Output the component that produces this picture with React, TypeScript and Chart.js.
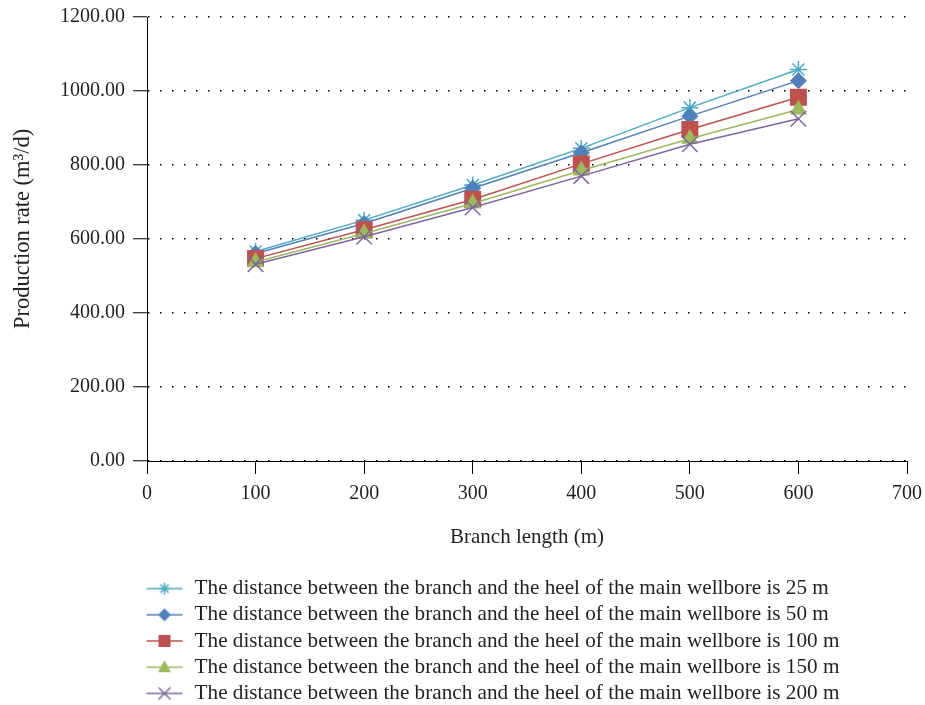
import React, { useEffect, useRef } from "react";
import { Chart, registerables } from "chart.js";

Chart.register(...registerables);

// ---- data ----
const branchLength = [100, 200, 300, 400, 500, 600];
const rate25 = [566, 651, 746, 845, 955, 1058];
const rate50 = [561, 642, 737, 833, 932, 1028];
const rate100 = [547, 625, 707, 803, 896, 983];
const rate150 = [538, 615, 696, 785, 871, 950];
const rate200 = [532, 606, 685, 770, 856, 925];
const seriesLabels = [
  "The distance between the branch and the heel of the main wellbore is 25 m",
  "The distance between the branch and the heel of the main wellbore is 50 m",
  "The distance between the branch and the heel of the main wellbore is 100 m",
  "The distance between the branch and the heel of the main wellbore is 150 m",
  "The distance between the branch and the heel of the main wellbore is 200 m",
];
const xAxisTitle = "Branch length (m)";
const yAxisTitle = "\u2002\u2009\u2009Production rate (m\u00B3/d)";
const xMin = 0, xMax = 700, xStep = 100;
const yMin = 0, yMax = 1200, yStep = 200;

// ---- styles ----
const FONT = "'Liberation Serif', 'Times New Roman', serif";
const TEXT = "#231f20";
const seriesStyles = [
  { color: "#4bacc6", style: "star", radius: 8.5, fill: false },
  { color: "#4f81bd", style: "rectRot", radius: 8.5, fill: true },
  { color: "#c0504d", style: "rect", radius: 12, fill: true },
  { color: "#9bbb59", style: "triangle", radius: 10, fill: true },
  { color: "#8064a2", style: "crossRot", radius: 11, fill: false },
];

function legendSymbol(color: string, kind: string): HTMLCanvasElement {
  const c = document.createElement("canvas");
  c.width = 38;
  c.height = 20;
  const ctx = c.getContext("2d")!;
  const cx = 19, cy = 10;
  ctx.strokeStyle = color;
  ctx.fillStyle = color;
  ctx.lineWidth = 1.5;
  ctx.beginPath();
  ctx.moveTo(1, cy);
  ctx.lineTo(37, cy);
  ctx.stroke();
  ctx.beginPath();
  if (kind === "star") {
    const r = 6, d = r * Math.SQRT1_2;
    ctx.moveTo(cx, cy - r); ctx.lineTo(cx, cy + r);
    ctx.moveTo(cx - r, cy); ctx.lineTo(cx + r, cy);
    ctx.moveTo(cx - d, cy - d); ctx.lineTo(cx + d, cy + d);
    ctx.moveTo(cx - d, cy + d); ctx.lineTo(cx + d, cy - d);
    ctx.stroke();
  } else if (kind === "rectRot") {
    const r = 6.5;
    ctx.moveTo(cx, cy - r); ctx.lineTo(cx + r, cy); ctx.lineTo(cx, cy + r); ctx.lineTo(cx - r, cy);
    ctx.closePath(); ctx.fill();
  } else if (kind === "rect") {
    ctx.rect(cx - 6, cy - 6, 12, 12); ctx.fill();
  } else if (kind === "triangle") {
    ctx.moveTo(cx, cy - 7); ctx.lineTo(cx + 6.5, cy + 5); ctx.lineTo(cx - 6.5, cy + 5);
    ctx.closePath(); ctx.fill();
  } else if (kind === "crossRot") {
    const d = 6;
    ctx.moveTo(cx - d, cy - d); ctx.lineTo(cx + d, cy + d);
    ctx.moveTo(cx - d, cy + d); ctx.lineTo(cx + d, cy - d);
    ctx.stroke();
  }
  return c;
}

const legendShift = {
  id: "legendShift",
  beforeDraw(chart: any) {
    const lg = chart.legend;
    if (!lg) return;
    const w = lg.width, h = lg.height;
    lg.left = 132;
    lg.right = 132 + w;
    lg.top = chart.height - 132;
    lg.bottom = lg.top + h;
  },
};

export default function App() {
  const ref = useRef<HTMLCanvasElement | null>(null);
  useEffect(() => {
    if (!ref.current) return;
    const allRates = [rate25, rate50, rate100, rate150, rate200];
    const symbols = seriesStyles.map((s) => legendSymbol(s.color, s.style));
    const datasets = allRates.map((vals, i) => {
      const s = seriesStyles[i];
      return {
        label: seriesLabels[i],
        data: branchLength.map((x, j) => ({ x, y: vals[j] })),
        borderColor: s.color,
        backgroundColor: s.color,
        borderWidth: 1.5,
        pointStyle: s.style,
        pointRadius: s.radius,
        pointBackgroundColor: s.fill ? s.color : "transparent",
        pointBorderColor: s.color,
        pointBorderWidth: s.fill ? 0 : 1.5,
        tension: 0,
        order: 4 - i,
        clip: false,
      };
    });
    const chart = new Chart(ref.current, {
      type: "line",
      data: { datasets },
      plugins: [legendShift],
      options: {
        animation: false,
        responsive: true,
        maintainAspectRatio: false,
        layout: { padding: 0, autoPadding: false },
        plugins: {
          tooltip: { enabled: false },
          legend: {
            position: "bottom",
            align: "start",
            labels: {
              usePointStyle: true,
              pointStyleWidth: 39,
              padding: 5,
              color: TEXT,
              font: { family: FONT, size: 21.2 },
              generateLabels: (ch: any) =>
                ch.data.datasets.map((ds: any, i: number) => ({
                  text: ds.label,
                  datasetIndex: i,
                  pointStyle: symbols[i],
                  fillStyle: ds.borderColor,
                  strokeStyle: ds.borderColor,
                  lineWidth: 0,
                  fontColor: TEXT,
                  hidden: false,
                })),
            },
          },
        },
        scales: {
          x: {
            type: "linear",
            min: xMin,
            max: xMax,
            afterFit: (s: any) => {
              s.height = 103;
              s.paddingRight = 18;
              s.paddingLeft = 0;
            },
            ticks: {
              stepSize: xStep,
              color: TEXT,
              padding: 11,
              font: { family: FONT, size: 20, lineHeight: 0.9 },
              callback: (v: any) => String(v),
            },
            grid: {
              display: true,
              drawOnChartArea: false,
              drawTicks: true,
              tickLength: 13,
              tickColor: "#000",
              tickWidth: 1,
            },
            border: { display: true, color: "#000", width: 1 },
            title: {
              display: true,
              text: xAxisTitle,
              color: TEXT,
              font: { family: FONT, size: 21 },
              padding: { top: 4, bottom: 14.4 },
            },
          },
          y: {
            type: "linear",
            min: yMin,
            max: yMax,
            afterFit: (s: any) => {
              s.width = 139;
              s.paddingTop = 9;
              s.paddingBottom = 0;
            },
            ticks: {
              stepSize: yStep,
              color: TEXT,
              padding: 8,
              font: { family: FONT, size: 20, lineHeight: 0.9 },
              callback: (v: any) => Number(v).toFixed(2),
            },
            grid: {
              display: true,
              drawOnChartArea: true,
              drawTicks: true,
              tickLength: 14,
              tickColor: "#000",
              tickWidth: 1,
              color: "#000",
              lineWidth: 1.5,
            },
            border: { display: true, color: "#000", width: 1, dash: [1.5, 10.5] },
            title: {
              display: true,
              text: yAxisTitle,
              color: TEXT,
              font: { family: FONT, size: 22.5 },
              padding: { top: 2, bottom: 4 },
            },
          },
        },
      },
    } as any);
    return () => chart.destroy();
  }, []);
  return (
    <div style={{ position: "fixed", left: 8, top: 8, width: 917, height: 697 }}>
      <canvas ref={ref} />
    </div>
  );
}
